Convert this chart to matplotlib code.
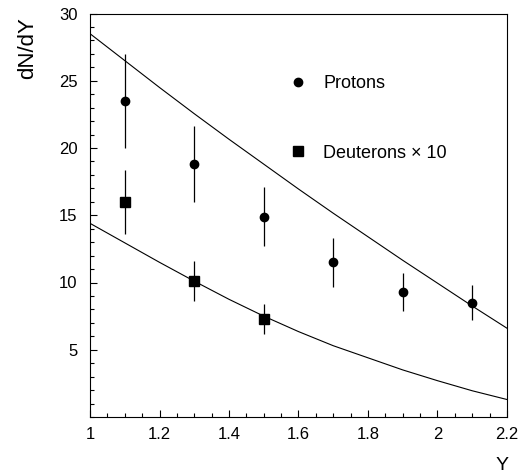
import matplotlib
matplotlib.use("Agg")
import matplotlib.pyplot as plt
from matplotlib.lines import Line2D
from matplotlib.ticker import MultipleLocator

plt.rcParams['font.family'] = ['Liberation Sans', 'DejaVu Sans']

# measured points
y_prot = [1.1, 1.3, 1.5, 1.7, 1.9, 2.1]
dn_prot = [23.5, 18.8, 14.9, 11.5, 9.3, 8.5]
err_prot = [3.5, 2.8, 2.2, 1.8, 1.4, 1.3]

y_deut = [1.1, 1.3, 1.5]
dn_deut = [16.0, 10.1, 7.3]
err_deut = [2.4, 1.5, 1.1]

# model curves
y_curve = [1.0, 1.1, 1.2, 1.3, 1.4, 1.5, 1.6, 1.7, 1.8, 1.9, 2.0, 2.1, 2.2]
dn_curve_p = [28.5, 26.5, 24.5, 22.55, 20.65, 18.8, 16.95, 15.15, 13.4, 11.65, 9.95, 8.25, 6.6]
dn_curve_d = [14.4, 12.95, 11.5, 10.1, 8.75, 7.5, 6.35, 5.3, 4.4, 3.5, 2.7, 1.95, 1.3]

xticks = [1.0, 1.2, 1.4, 1.6, 1.8, 2.0, 2.2]
xticklabels = ["1", "1.2", "1.4", "1.6", "1.8", "2", "2.2"]
yticks = [5, 10, 15, 20, 25, 30]

fig = plt.figure(figsize=(5.21, 4.72), dpi=100)
ax = fig.add_axes([90 / 521, 1 - 417 / 472, 417 / 521, 403.5 / 472])

ax.plot(y_curve, dn_curve_p, color="black", lw=0.8)
ax.plot(y_curve, dn_curve_d, color="black", lw=0.8)

ax.errorbar(y_prot, dn_prot, yerr=err_prot, fmt="o", color="black",
            ms=6, elinewidth=0.9, capsize=0)
ax.errorbar(y_deut, dn_deut, yerr=err_deut, fmt="s", color="black",
            ms=6.5, elinewidth=0.9, capsize=0)

ax.set_xlim(1.0, 2.2)
ax.set_ylim(0, 30)
ax.set_xticks(xticks)
ax.set_xticklabels(xticklabels)
ax.set_yticks(yticks)
ax.xaxis.set_minor_locator(MultipleLocator(0.05))
ax.yaxis.set_minor_locator(MultipleLocator(1))
ax.tick_params(which="both", direction="in", top=False, right=False,
               labelsize=12, width=0.8)
ax.tick_params(which="major", length=5, pad=9)
ax.tick_params(axis="x", which="major", pad=7)
ax.tick_params(which="minor", length=3)
for s in ax.spines.values():
    s.set_linewidth(0.8)

ax.set_ylabel("dN/dY", fontsize=16)
ax.yaxis.set_label_coords(-0.125, 0.915)
ax.set_xlabel("Y", fontsize=14)
ax.xaxis.set_label_coords(0.988, -0.098)

handles = [
    Line2D([], [], marker="o", ls="none", color="black", ms=6),
    Line2D([], [], marker="s", ls="none", color="black", ms=6.5),
]
ax.legend(handles, ["Protons", "Deuterons \u00d7 10"], loc="upper left",
          bbox_to_anchor=(0.46, 0.865), frameon=False, fontsize=13,
          handlelength=1.0, handletextpad=0.9, labelspacing=2.9,
          borderaxespad=0)

fig.savefig("out.png", dpi=100)
